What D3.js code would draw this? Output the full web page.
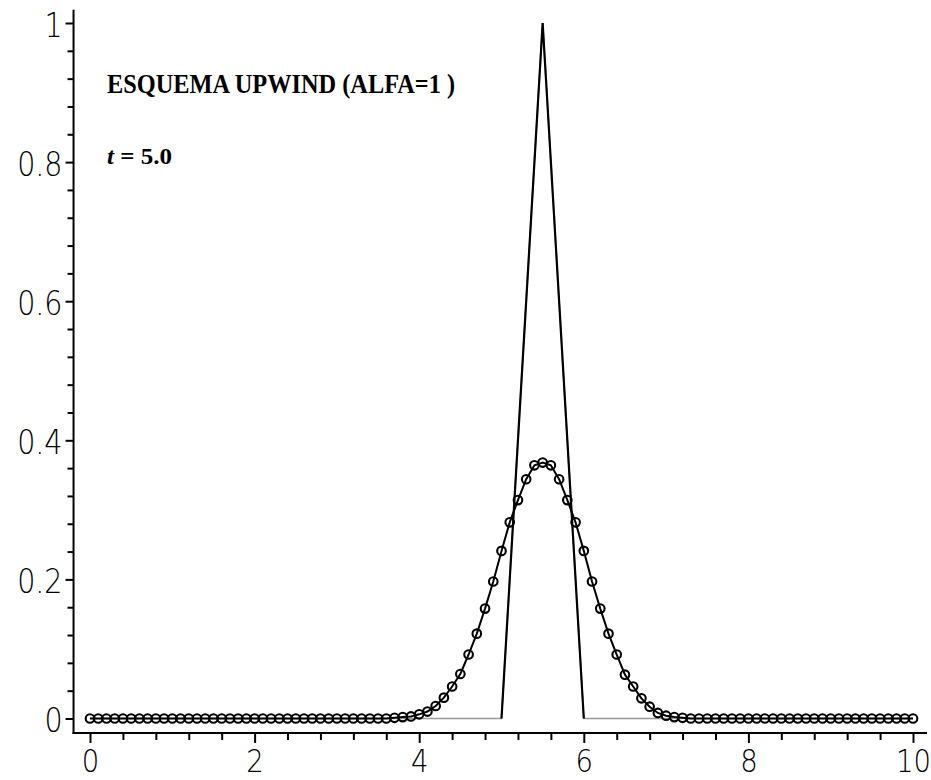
<!DOCTYPE html>
<html>
<head>
<meta charset="utf-8">
<script src="https://cdn.jsdelivr.net/npm/d3@7/dist/d3.min.js"></script>
<style>
  html, body { margin: 0; padding: 0; background: #fff; }
  svg { display: block; }
</style>
</head>
<body>
<svg id="chart" width="931" height="780"></svg>
<script>
// Upwind scheme solution at t = 5.0, sampled on a uniform grid of step 0.1 over [0, 10]
const gridStep = 0.1;
const upwindValues = [
  0, 0, 0, 0, 0, 0, 0, 0, 0, 0,            // 0.0 - 0.9
  0, 0, 0, 0, 0, 0, 0, 0, 0, 0,            // 1.0 - 1.9
  0, 0, 0, 0, 0, 0, 0, 0, 0, 0,            // 2.0 - 2.9
  0, 0, 0, 0, 0, 0, 0, 0.001, 0.002, 0.003, // 3.0 - 3.9
  0.006, 0.010, 0.018, 0.030, 0.046, 0.064, 0.092, 0.122, 0.158, 0.197, // 4.0 - 4.9
  0.241, 0.282, 0.314, 0.344, 0.364, 0.368, 0.364, 0.344, 0.314, 0.282, // 5.0 - 5.9
  0.241, 0.197, 0.158, 0.122, 0.092, 0.063, 0.046, 0.029, 0.017, 0.008, // 6.0 - 6.9
  0.004, 0.002, 0.001, 0, 0, 0, 0, 0, 0, 0, // 7.0 - 7.9
  0, 0, 0, 0, 0, 0, 0, 0, 0, 0,            // 8.0 - 8.9
  0, 0, 0, 0, 0, 0, 0, 0, 0, 0,            // 9.0 - 9.9
  0                                         // 10.0
];

// Exact solution: triangular pulse transported to [5, 6]
const exactX = [0, 5, 5.5, 6, 10];
const exactY = [0, 0, 1, 0, 0];

// Axis ticks
const xMajorTicks = [0, 2, 4, 6, 8, 10];
const xMinorTicks = [0.4, 0.8, 1.2, 1.6, 2.4, 2.8, 3.2, 3.6, 4.4, 4.8, 5.2, 5.6, 6.4, 6.8, 7.2, 7.6, 8.4, 8.8, 9.2, 9.6];
const yMajorTicks = [0, 0.2, 0.4, 0.6, 0.8, 1];
const yMinorTicks = [0.04, 0.08, 0.12, 0.16, 0.24, 0.28, 0.32, 0.36, 0.44, 0.48, 0.52, 0.56, 0.64, 0.68, 0.72, 0.76, 0.84, 0.88, 0.92, 0.96];
const yTickLabels = ["0", "0.2", "0.4", "0.6", "0.8", "1"];
const xTickLabels = ["0", "2", "4", "6", "8", "10"];

const titleText = "ESQUEMA UPWIND (ALFA=1 )";
const timeLabel = "= 5.0";

const svg = d3.select("#chart");
svg.append("rect").attr("width", 931).attr("height", 780).attr("fill", "#fff");

const x = d3.scaleLinear().domain([0, 10]).range([90, 913]);
const y = d3.scaleLinear().domain([0, 1]).range([718.5, 23]);

const axisX = x(-0.2);          // vertical axis position
const axisY = y(-0.0208);       // horizontal axis position

const labelFont = "'DejaVu Sans', sans-serif";

// ---- vertical axis ----
const gy = svg.append("g").attr("transform", `translate(${axisX},0)`);
gy.call(d3.axisLeft(y).tickValues(yMinorTicks).tickSize(6).tickFormat(""))
  .call(g => g.select(".domain").remove());
gy.selectAll(".tick line").attr("stroke", "#000").attr("stroke-width", 2);
const gyMaj = svg.append("g").attr("transform", `translate(${axisX},0)`);
gyMaj.call(d3.axisLeft(y).tickValues(yMajorTicks).tickSize(8)
      .tickFormat((d, i) => yTickLabels[i]))
  .call(g => g.select(".domain").remove());
gyMaj.selectAll(".tick line").attr("stroke", "#000").attr("stroke-width", 2);
gyMaj.selectAll(".tick text")
  .attr("x", null).attr("dy", null).attr("y", 0)
  .attr("transform", "translate(-11,13) scale(0.84,1)")
  .attr("text-anchor", "end")
  .attr("font-family", labelFont)
  .attr("font-weight", 200)
  .attr("font-size", 34)
  .attr("fill", "#000");

// ---- horizontal axis ----
const gx = svg.append("g").attr("transform", `translate(0,${axisY})`);
gx.call(d3.axisBottom(x).tickValues(xMinorTicks).tickSize(7).tickFormat(""))
  .call(g => g.select(".domain").remove());
gx.selectAll(".tick line").attr("stroke", "#000").attr("stroke-width", 2);
const gxMaj = svg.append("g").attr("transform", `translate(0,${axisY})`);
gxMaj.call(d3.axisBottom(x).tickValues(xMajorTicks).tickSize(10)
      .tickFormat((d, i) => xTickLabels[i]))
  .call(g => g.select(".domain").remove());
gxMaj.selectAll(".tick line").attr("stroke", "#000").attr("stroke-width", 2);
gxMaj.selectAll(".tick text")
  .attr("y", 0).attr("dy", null)
  .attr("transform", "translate(0,39) scale(0.86,1)")
  .attr("text-anchor", "middle")
  .attr("font-family", labelFont)
  .attr("font-weight", 200)
  .attr("font-size", 32)
  .attr("fill", "#000");

// axis lines
svg.append("line")
  .attr("x1", axisX).attr("x2", axisX)
  .attr("y1", y(1.019)).attr("y2", axisY + 1)
  .attr("stroke", "#000").attr("stroke-width", 2);
svg.append("line")
  .attr("x1", axisX - 1).attr("x2", x(10.17))
  .attr("y1", axisY).attr("y2", axisY)
  .attr("stroke", "#000").attr("stroke-width", 2);

// ---- exact solution ----
const exactPts = exactX.map((v, i) => [v, exactY[i]]);
const line = d3.line().x(d => x(d[0])).y(d => y(d[1]));
svg.append("path")
  .attr("d", line(exactPts))
  .attr("fill", "none").attr("stroke", "#999").attr("stroke-width", 1.6);
svg.append("path")
  .attr("d", line(exactPts.slice(1, 4)))
  .attr("fill", "none").attr("stroke", "#000").attr("stroke-width", 2.2)
  .attr("stroke-linejoin", "miter");

// ---- numerical solution ----
const numPts = upwindValues.map((v, i) => [i * gridStep, v]);
svg.append("path")
  .attr("d", line(numPts))
  .attr("fill", "none").attr("stroke", "#000").attr("stroke-width", 2);
svg.append("g").selectAll("circle")
  .data(numPts)
  .join("circle")
  .attr("cx", d => x(d[0]))
  .attr("cy", d => y(d[1]))
  .attr("r", 4.3)
  .attr("fill", "none")
  .attr("stroke", "#000")
  .attr("stroke-width", 2.1);

// ---- annotations ----
svg.append("text")
  .attr("x", 107).attr("y", 93)
  .attr("font-family", "'Liberation Serif', 'Times New Roman', serif")
  .attr("font-weight", "bold")
  .attr("font-size", 28)
  .attr("textLength", 348)
  .attr("lengthAdjust", "spacingAndGlyphs")
  .attr("fill", "#000")
  .text(titleText);

const tl = svg.append("text")
  .attr("x", 107).attr("y", 164)
  .attr("font-family", "'Liberation Serif', 'Times New Roman', serif")
  .attr("font-weight", "bold")
  .attr("font-size", 23)
  .attr("textLength", 65)
  .attr("lengthAdjust", "spacingAndGlyphs")
  .attr("fill", "#000");
tl.append("tspan").attr("font-style", "italic").text("t");
tl.append("tspan").text(" " + timeLabel);
</script>
</body>
</html>
